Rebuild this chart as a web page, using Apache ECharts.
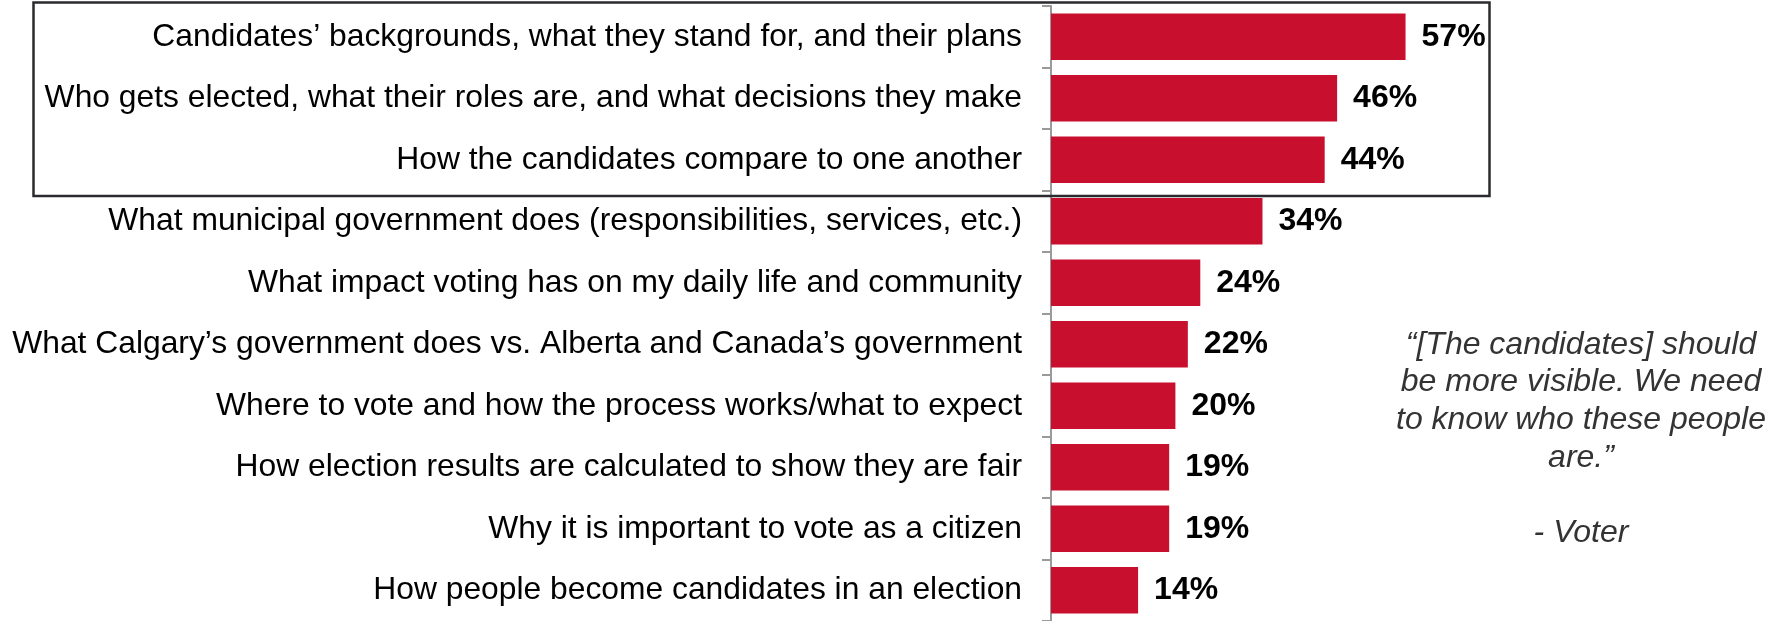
<!DOCTYPE html>
<html>
<head>
<meta charset="utf-8">
<script src="https://cdn.jsdelivr.net/npm/echarts@6/dist/echarts.min.js"></script>
<style>
  html, body { margin: 0; padding: 0; background: #ffffff; }
  #chart { width: 1781px; height: 621px; }
</style>
</head>
<body>
<div id="chart"></div>
<script>
// Topics voters want to know more about (share of respondents, %)
const categories = [
  "Candidates\u2019 backgrounds, what they stand for, and their plans",
  "Who gets elected, what their roles are, and what decisions they make",
  "How the candidates compare to one another",
  "What municipal government does (responsibilities, services, etc.)",
  "What impact voting has on my daily life and community",
  "What Calgary\u2019s government does vs. Alberta and Canada\u2019s government",
  "Where to vote and how the process works/what to expect",
  "How election results are calculated to show they are fair",
  "Why it is important to vote as a citizen",
  "How people become candidates in an election"
];
const shares = [57, 46, 44, 34, 24, 22, 20, 19, 19, 14];

// Number of leading topics grouped inside the highlight frame
const highlightedCount = 3;

const quoteLines = [
  "\u201C[The candidates] should",
  "be more visible. We need",
  "to know who these people",
  "are.\u201D",
  "",
  "- Voter"
];

const FONT = "'Liberation Sans', Arial, Helvetica, sans-serif";
const chart = echarts.init(document.getElementById('chart'), null, { renderer: 'canvas' });

chart.setOption({
  animation: false,
  backgroundColor: '#ffffff',
  grid: { left: 1051, top: 6, width: 622, height: 617, containLabel: false },
  xAxis: {
    type: 'value', min: 0, max: 100, show: false
  },
  yAxis: {
    type: 'category',
    inverse: true,
    data: categories,
    axisLine: { show: true, lineStyle: { color: '#9a9a9a', width: 2 } },
    axisTick: { show: true, length: 9, lineStyle: { color: '#9a9a9a', width: 2 } },
    axisLabel: {
      margin: 29,
      color: '#000000',
      fontFamily: FONT,
      fontSize: 31.8
    },
    splitLine: { show: false }
  },
  series: [{
    type: 'bar',
    data: shares,
    barWidth: '76%',
    itemStyle: { color: '#C8102E' },
    label: {
      show: true,
      position: 'right',
      distance: 16,
      formatter: '{c}%',
      color: '#000000',
      fontFamily: FONT,
      fontWeight: 'bold',
      fontSize: 32
    }
  }]
});

// Frame around the leading topics and the voter quote, placed from the axis scale
function drawExtras() {
  const c0 = chart.convertToPixel({ yAxisIndex: 0 }, categories[0]);
  const c1 = chart.convertToPixel({ yAxisIndex: 0 }, categories[1]);
  const cLast = chart.convertToPixel({ yAxisIndex: 0 }, categories[highlightedCount - 1]);
  const band = c1 - c0;
  const top = c0 - band / 2 - 3.5;
  const bottom = cLast + band / 2 + 5.5;

  chart.setOption({
    graphic: [
      {
        type: 'rect',
        z: 100,
        shape: { x: 33.5, y: top, width: 1456, height: bottom - top },
        style: { fill: 'none', stroke: '#2b2b2f', lineWidth: 2.5 }
      },
      {
        type: 'text',
        z: 100,
        x: 1581,
        y: 326,
        style: {
          text: quoteLines.join('\n'),
          textAlign: 'center',
          textVerticalAlign: 'top',
          fill: '#333333',
          font: 'italic 32px ' + FONT,
          lineHeight: 37.6
        }
      }
    ]
  });
}
drawExtras();
</script>
</body>
</html>
